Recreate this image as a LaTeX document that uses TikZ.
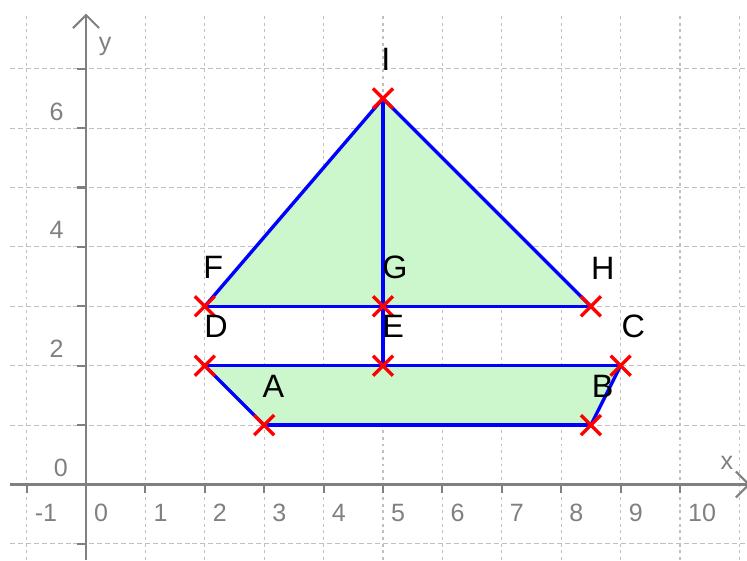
\documentclass[tikz,border=0pt]{standalone}
\usepackage{fontspec}
\setmainfont{Liberation Sans}
\usetikzlibrary{shapes.misc}
\definecolor{gridgray}{RGB}{192,192,192}
\definecolor{axisgray}{RGB}{128,128,128}
\definecolor{fillgreen}{RGB}{204,246,204}
\definecolor{ptblue}{RGB}{0,0,255}
\definecolor{ptred}{RGB}{255,0,0}
\begin{document}
\begin{tikzpicture}[x=1cm,y=1cm,
  hgrid/.style={gridgray, line width=0.5pt, dash pattern=on 2.4pt off 1.4pt},
  vgrid/.style={gridgray, line width=0.5pt, dash pattern=on 1.4pt off 1.8pt},
  axisline/.style={axisgray, line width=1pt},
  edgeline/.style={ptblue, line width=1.6pt, line join=round, line cap=round},
  region/.style={fill=fillgreen},
  ptmark/.style={cross out, draw=ptred, line width=1.6pt, minimum size=0.28cm, inner sep=0pt},
  ptlabel/.style={font=\fontsize{15.5}{16}\selectfont, text=black, inner sep=0pt},
  ticklabel/.style={font=\fontsize{12}{12}\selectfont, text=axisgray, inner sep=0pt}]
\useasboundingbox (-1.448,-1.271) rectangle (11.128,8.157);
% grid
\foreach \i in {-1,...,7} \draw[hgrid] (-1.28,\i) -- (11.128,\i);
\foreach \i in {-1,...,11} \draw[vgrid] (\i,-1.271) -- (\i,7.94);
% axes
\coordinate (xs) at (-1.28,0);
\coordinate (xe) at (11.16,0);
\coordinate (ys) at (0,-1.271);
\coordinate (ye) at (0,7.904);
\draw[axisline] (xs) -- (xe);
\draw[axisline] (ys) -- (ye);
\draw[axisline] (xe) ++(-0.22,0.22) -- (xe) -- ++(-0.22,-0.22);
\draw[axisline] (ye) ++(-0.22,-0.22) -- (ye) -- ++(0.22,-0.22);
\foreach \i in {-1,...,10} \draw[axisline] (\i,0) -- (\i,-0.14);
\foreach \i in {-1,...,7} \draw[axisline] (0,\i) -- (-0.15,\i);
% tick labels
\foreach \i in {-1,...,10} \node[ticklabel, anchor=west] (tx\i) at (\i+0.13,-0.475) {\i};
\foreach \i in {2,4,6} \node[ticklabel, anchor=east] (ty\i) at (-0.37,\i+0.28) {\i};
\node[ticklabel, anchor=east] (ty0) at (-0.3,0.28) {0};
\node[ticklabel] (xlab) at (10.79,0.367) {x};
\node[ticklabel] (ylab) at (0.32,7.37) {y};
% points
\coordinate (A) at (3,1);
\coordinate (B) at (8.5,1);
\coordinate (C) at (9,2);
\coordinate (D) at (2,2);
\coordinate (E) at (5,2);
\coordinate (F) at (2,3);
\coordinate (G) at (5,3);
\coordinate (H) at (8.5,3);
\coordinate (I) at (5,6.5);
% regions
\fill[region] (D) -- (A) -- (B) -- (C) -- cycle;
\fill[region] (F) -- (I) -- (H) -- cycle;
% edges
\draw[edgeline] (D) -- (A);
\draw[edgeline] (A) -- (B);
\draw[edgeline] (B) -- (C);
\draw[edgeline] (C) -- (D);
\draw[edgeline] (F) -- (I);
\draw[edgeline] (I) -- (H);
\draw[edgeline] (H) -- (F);
\draw[edgeline] (I) -- (E);
% point marks
\foreach \p in {A,B,C,D,E,F,G,H,I} \node[ptmark] (m\p) at (\p) {};
% point labels
\node[ptlabel] (lA) at (3.153,1.658) {A};
\node[ptlabel] (lB) at (8.699,1.658) {B};
\node[ptlabel] (lC) at (9.214,2.655) {C};
\node[ptlabel] (lD) at (2.189,2.655) {D};
\node[ptlabel] (lE) at (5.172,2.655) {E};
\node[ptlabel] (lF) at (2.143,3.650) {F};
\node[ptlabel] (lG) at (5.202,3.650) {G};
\node[ptlabel] (lH) at (8.699,3.640) {H};
\node[ptlabel] (lI) at (5.046,7.158) {I};
\end{tikzpicture}
\end{document}
